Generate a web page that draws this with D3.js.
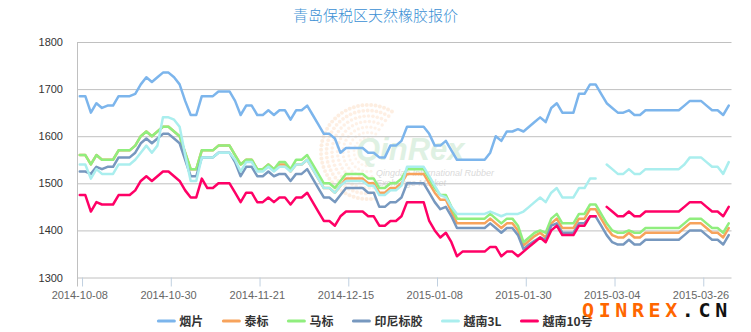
<!DOCTYPE html>
<html><head><meta charset="utf-8">
<script src="https://cdn.jsdelivr.net/npm/d3@7"></script>
<style>
html,body{margin:0;padding:0;background:#fff;}
svg{display:block;}
text{font-family:"Liberation Sans","Noto Sans CJK SC",Arial,sans-serif;}
</style></head>
<body><svg id="c" width="751" height="332"></svg>
<script>
const dates = ["2014-10-08","2014-10-09","2014-10-10","2014-10-13","2014-10-14","2014-10-15","2014-10-16","2014-10-17","2014-10-20","2014-10-21","2014-10-22","2014-10-23","2014-10-24","2014-10-27","2014-10-28","2014-10-29",
"2014-10-30","2014-10-31","2014-11-03","2014-11-04","2014-11-05","2014-11-06","2014-11-07","2014-11-10","2014-11-11","2014-11-12","2014-11-13","2014-11-14","2014-11-17","2014-11-18","2014-11-19","2014-11-20",
"2014-11-21","2014-11-24","2014-11-25","2014-11-26","2014-11-27","2014-11-28","2014-12-01","2014-12-02","2014-12-03","2014-12-04","2014-12-05","2014-12-08","2014-12-09","2014-12-10","2014-12-11","2014-12-12",
"2014-12-15","2014-12-16","2014-12-17","2014-12-18","2014-12-19","2014-12-22","2014-12-23","2014-12-24","2014-12-25","2014-12-26","2014-12-29","2014-12-30","2014-12-31","2015-01-05","2015-01-06","2015-01-07",
"2015-01-08","2015-01-09","2015-01-12","2015-01-13","2015-01-14","2015-01-15","2015-01-16","2015-01-19","2015-01-20","2015-01-21","2015-01-22","2015-01-23","2015-01-26","2015-01-27","2015-01-28","2015-01-29",
"2015-01-30","2015-02-02","2015-02-03","2015-02-04","2015-02-05","2015-02-06","2015-02-09","2015-02-10","2015-02-11","2015-02-12","2015-02-13","2015-02-16","2015-02-17","2015-02-27","2015-03-02","2015-03-03",
"2015-03-04","2015-03-05","2015-03-06","2015-03-09","2015-03-10","2015-03-11","2015-03-12","2015-03-13","2015-03-16","2015-03-17","2015-03-18","2015-03-19","2015-03-20","2015-03-23","2015-03-24","2015-03-25",
"2015-03-26","2015-03-27","2015-03-30","2015-03-31","2015-04-01","2015-04-02"];

const xTickLabels = ["2014-10-08","2014-10-30","2014-11-21","2014-12-15","2015-01-08","2015-01-30","2015-03-04","2015-03-26"];
const yTicks = [1300,1400,1500,1600,1700,1800];
const seriesNames = ["烟片","泰标","马标","印尼标胶","越南3L","越南10号"];
const seriesColors = ["#7cb5ec","#f7a35c","#90ee7e","#7798BF","#aaeeee","#ff0066"];

const yanpian = [1685,1685,1650,1670,1660,1665,1665,1685,1685,1685,1690,1710,1725,1715,1725,1735,1735,1725,1710,1675,1645,1645,1685,1685,1685,1695,1695,1695,1675,1645,1665,1665,
1645,1645,1655,1645,1655,1655,1635,1655,1655,1665,1645,1625,1605,1605,1595,1565,1575,1575,1575,1575,1565,1565,1555,1555,1580,1580,1590,1620,1620,1620,1620,1605,
1580,1580,1590,1570,1550,1550,1550,1550,1550,1550,1565,1600,1590,1610,1610,1615,1610,1620,1630,1640,1630,1660,1670,1650,1650,1650,1690,1690,1710,1710,1690,1670,
1660,1650,1650,1655,1645,1645,1655,1655,1655,1655,1655,1655,1655,1665,1675,1675,1675,1665,1655,1655,1645,1665];

const taibiao = [1560,1560,1540,1560,1550,1550,1550,1570,1570,1570,1580,1600,1610,1600,1610,1620,1620,1610,1600,1565,1530,1530,1570,1570,1570,1580,1580,1580,1560,1540,1550,1550,
1530,1530,1540,1530,1540,1540,1525,1540,1540,1550,1530,1510,1490,1490,1480,1495,1510,1510,1510,1510,1500,1500,1480,1480,1490,1490,1500,1520,1520,1520,1520,1500,
1480,1465,1465,1440,1415,1415,1415,1415,1415,1415,1425,1415,1405,1415,1415,1400,1368,1378,1388,1395,1385,1415,1425,1405,1405,1405,1425,1425,1445,1445,1425,1405,
1390,1385,1385,1395,1385,1385,1395,1395,1395,1395,1395,1395,1395,1405,1415,1415,1415,1405,1395,1395,1385,1405];

const mabiao = [1560,1560,1540,1560,1550,1550,1550,1570,1570,1570,1580,1600,1610,1600,1610,1620,1620,1610,1600,1565,1530,1530,1570,1570,1570,1580,1580,1580,1560,1540,1550,1550,
1530,1530,1540,1530,1545,1545,1530,1550,1550,1560,1540,1520,1500,1500,1490,1505,1520,1520,1520,1520,1510,1510,1490,1490,1500,1500,1510,1530,1530,1530,1530,1510,
1490,1475,1475,1450,1425,1425,1425,1425,1425,1425,1435,1425,1415,1425,1425,1410,1375,1385,1395,1400,1395,1425,1435,1415,1415,1415,1435,1435,1455,1455,1435,1415,
1400,1395,1395,1400,1395,1395,1405,1405,1405,1405,1405,1405,1405,1415,1425,1425,1425,1415,1405,1405,1395,1415];

const yinni = [1525,1525,1520,1535,1530,1535,1535,1555,1555,1555,1565,1585,1595,1585,1595,1605,1605,1595,1585,1550,1515,1515,1555,1555,1555,1565,1565,1565,1545,1515,1535,1535,
1515,1515,1525,1515,1520,1520,1505,1520,1520,1530,1510,1490,1470,1470,1460,1475,1490,1490,1490,1490,1480,1480,1450,1450,1460,1460,1470,1500,1500,1500,1500,1480,
1460,1445,1450,1430,1405,1405,1405,1405,1405,1405,1415,1405,1395,1405,1405,1390,1360,1370,1378,1385,1380,1410,1415,1395,1395,1395,1415,1415,1430,1430,1410,1390,
1375,1370,1370,1380,1370,1370,1380,1380,1380,1380,1380,1380,1380,1390,1400,1400,1400,1390,1380,1380,1370,1390];

const yuenan3L = [1540,1540,1510,1530,1520,1520,1520,1540,1540,1540,1550,1565,1580,1565,1580,1640,1640,1635,1620,1560,1505,1505,1555,1555,1555,1565,1565,1565,1550,1525,1545,1545,
1525,1525,1535,1525,1535,1535,1525,1540,1540,1550,1530,1510,1490,1490,1480,1495,1505,1505,1505,1505,1495,1495,1475,1475,1485,1485,1495,1535,1535,1535,1535,1515,
1495,1475,1470,1450,1435,1435,1435,1435,1435,1435,1440,1435,1430,1435,1435,1435,1440,1450,1460,1470,1460,1480,1490,1470,1470,1470,1490,1490,1510,1510,null,1540,
1530,1520,1520,1530,1520,1520,1530,1530,1530,1530,1530,1530,1530,1540,1555,1555,1555,1545,1535,1535,1520,1545];

const yuenan10 = [1475,1475,1440,1460,1455,1455,1455,1475,1475,1475,1485,1505,1515,1505,1515,1525,1525,1515,1505,1485,1470,1470,1510,1490,1490,1500,1500,1500,1480,1460,1480,1480,
1460,1460,1470,1460,1470,1470,1455,1470,1470,1480,1460,1440,1420,1420,1410,1430,1440,1440,1440,1440,1430,1430,1410,1410,1420,1420,1430,1460,1460,1460,1460,1420,
1400,1385,1395,1375,1345,1355,1355,1355,1355,1355,1365,1365,1345,1355,1355,1345,1355,1365,1375,1385,1375,1400,1410,1390,1390,1390,1410,1410,1430,1430,null,1450,
1440,1430,1430,1440,1430,1430,1440,1440,1440,1440,1440,1440,1440,1450,1460,1460,1460,1450,1440,1440,1430,1450];

const seriesValues = [yanpian, taibiao, mabiao, yinni, yuenan3L, yuenan10];

const svg = d3.select("#c");
const L = 77, R = 731.5, T = 42, B = 277.5;

const x = d3.scaleBand().domain(dates).range([L, R]).paddingInner(0).paddingOuter(0);
const bw = x.bandwidth();
const y = d3.scaleLinear().domain([1300, 1800]).range([B, T]);

// title
svg.append("text").attr("x", 375.5).attr("y", 21).attr("text-anchor", "middle")
  .style("font-family", '"Noto Sans CJK SC",sans-serif').style("font-size", "15px")
  .style("font-weight", 300).attr("fill", "#3a8fd4").text("青岛保税区天然橡胶报价");

// watermark
const wm = svg.append("g").attr("class", "watermark");
const cx = 368, cy = 152;
for (let r = 14; r <= 48; r += 5.5) {
  const n = Math.round(r * 0.9);
  for (let k = 0; k < n; k++) {
    const a = Math.PI * 0.45 + (k / n) * Math.PI * 1.25;
    const px = cx + r * Math.cos(a), py = cy + r * Math.sin(a);
    wm.append("circle").attr("cx", px).attr("cy", py).attr("r", 1.2 + r / 60)
      .attr("fill", "#fbd3b4").attr("opacity", 0.2 + 0.2 * (r / 48));
  }
}
wm.append("text").attr("x", 356).attr("y", 160).style("font-size", "31px").style("font-weight", "bold")
  .style("font-style", "italic").attr("fill", "#dff1e3").text("QinRex");
wm.append("text").attr("x", 376).attr("y", 176).style("font-size", "9px").style("font-style", "italic")
  .attr("fill", "#dadada").text("Qingdao International Rubber");
wm.append("text").attr("x", 376).attr("y", 186).style("font-size", "9px").style("font-style", "italic")
  .attr("fill", "#dadada").text("Exchange Market");

// grid + y labels
const gy = svg.append("g").attr("transform", `translate(${L},0)`)
  .call(d3.axisLeft(y).tickValues(yTicks).tickSize(-(R - L)).tickPadding(14).tickFormat(d3.format("d")));
gy.select(".domain").remove();
gy.selectAll(".tick line").attr("stroke", "#c0c0c0").attr("stroke-width", 1);
gy.selectAll(".tick text").attr("fill", "#333").style("font-size", "11px");

// y axis line
svg.append("line").attr("x1", L + 0.5).attr("x2", L + 0.5).attr("y1", T).attr("y2", B + 9)
  .attr("stroke", "#c0c0c0");

// x axis labels
const gxL = svg.append("g").attr("transform", `translate(0,${B})`)
  .call(d3.axisBottom(x).tickValues(xTickLabels).tickSize(0).tickPadding(14));
gxL.select(".domain").remove();
gxL.selectAll(".tick text").attr("fill", "#666").style("font-size", "11px");

// x ticks at band boundaries
const gxT = svg.append("g").attr("transform", `translate(${bw / 2},${B})`)
  .call(d3.axisBottom(x).tickValues(xTickLabels).tickSize(9).tickFormat(""));
gxT.select(".domain").remove();
gxT.selectAll(".tick line").attr("stroke", "#c0d0e0");

// lines
const line = d3.line()
  .defined(d => d.v != null)
  .x(d => x(d.date) + bw / 2)
  .y(d => y(d.v));

seriesValues.forEach((vals, si) => {
  const data = dates.map((d, i) => ({ date: d, v: vals[i] }));
  svg.append("path").datum(data).attr("d", line)
    .attr("fill", "none").attr("stroke", seriesColors[si]).attr("stroke-width", 2.5)
    .attr("stroke-linejoin", "round").attr("stroke-linecap", "round");
});

// legend
const lg = svg.append("g");
let cur = 0;
const items = [];
seriesNames.forEach((nm, i) => {
  const g = lg.append("g");
  g.append("line").attr("x1", 0).attr("x2", 16).attr("y1", 0).attr("y2", 0)
    .attr("stroke", seriesColors[i]).attr("stroke-width", 3).attr("stroke-linecap", "round");
  const t = g.append("text").attr("x", 21).attr("y", 4.5).style("font-size", "12px").style("font-weight", "bold")
    .style("font-family", '"Noto Sans CJK SC","Liberation Sans",sans-serif').attr("fill", "#333").text(nm);
  const w = 21 + t.node().getComputedTextLength();
  items.push({ g, x: cur });
  cur += w + 20;
});
const total = cur - 20;
const start = 375.5 - total / 2;
items.forEach(it => it.g.attr("transform", `translate(${start + it.x},321)`));

// brand
svg.append("text").attr("x", 582).attr("y", 317)
  .style("font-family", '"DejaVu Sans Mono",monospace').style("font-size", "20px").style("font-weight", "bold")
  .style("letter-spacing", "4.6px")
  .call(t => { t.append("tspan").attr("fill", "#ff6600").text("QINREX"); t.append("tspan").attr("fill", "#111").text(".CN"); });
</script></body></html>
